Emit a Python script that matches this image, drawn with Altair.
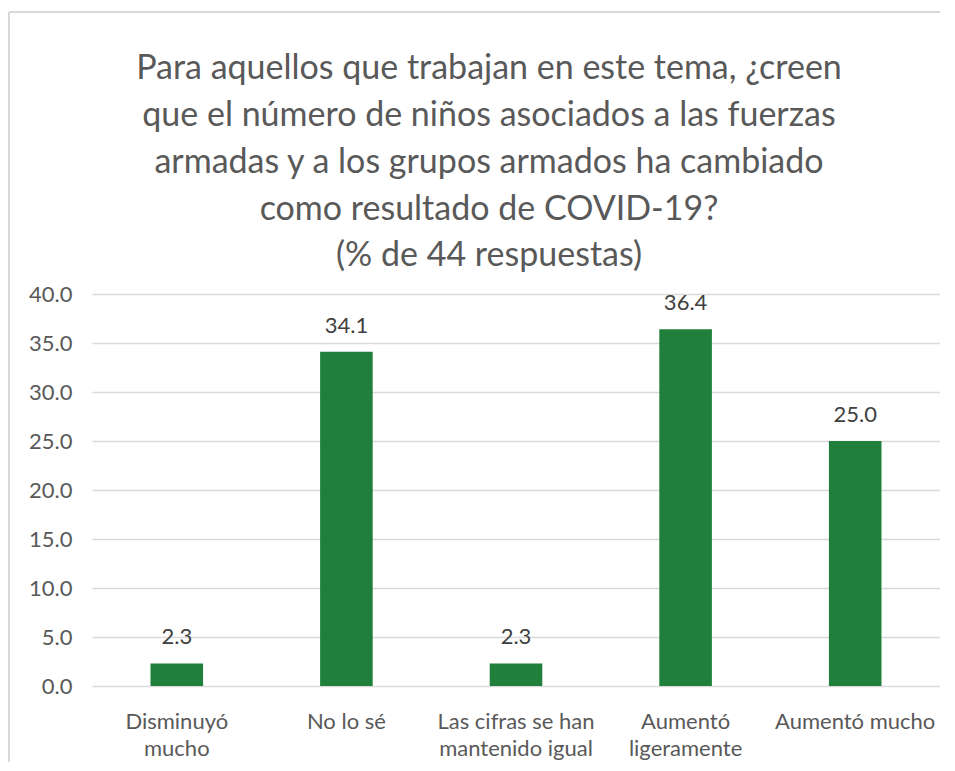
import altair as alt
import pandas as pd

categories = ["Disminuyó\nmucho", "No lo sé", "Las cifras se han\nmantenido igual",
              "Aumentó\nligeramente", "Aumentó mucho"]
values = [2.3, 34.1, 2.3, 36.4, 25.0]
y_ticks = [0, 5, 10, 15, 20, 25, 30, 35, 40]
title_lines = ["Para aquellos que trabajan en este tema, ¿creen",
               "que el número de niños asociados a las fuerzas",
               "armadas y a los grupos armados ha cambiado",
               "como resultado de COVID-19?",
               "(% de 44 respuestas)"]

df = pd.DataFrame({"cat": categories, "val": values})
FONT = "Lato"

x = alt.X("cat:N", sort=categories, title=None,
          scale=alt.Scale(paddingInner=0.69, paddingOuter=0.345),
          axis=alt.Axis(labelExpr="split(datum.label, '\\n')", labelAngle=0,
                        labelFontSize=22, labelColor="#595959", labelFont=FONT,
                        labelLineHeight=27, labelPadding=25, ticks=False,
                        domain=False, grid=False, labelBaseline="top"))
y = alt.Y("val:Q", title=None,
          scale=alt.Scale(domain=[0, 40], nice=False),
          axis=alt.Axis(values=y_ticks, format=".1f", labelFontSize=22,
                        labelColor="#595959", labelFont=FONT, ticks=False,
                        domain=False, gridColor="#d9d9d9", gridWidth=1.5,
                        labelPadding=20))

base = alt.Chart(df)
bars = base.mark_bar(color="#1f7f3b").encode(x=x, y=y)
labels = base.mark_text(baseline="bottom", dy=-14, fontSize=22, font=FONT,
                        color="#404040").encode(
    x=alt.X("cat:N", sort=categories), y="val:Q",
    text=alt.Text("val:Q", format=".1f"))

border_v = alt.Chart(df).mark_rule(color="#d9d9d9", strokeWidth=1.5, clip=False).encode(
    x=alt.value(-83), y=alt.value(-282), y2=alt.value(480))
border_h = alt.Chart(df).mark_rule(color="#d9d9d9", strokeWidth=1.5, clip=False).encode(
    x=alt.value(-83), x2=alt.value(900), y=alt.value(-282))

chart = alt.layer(border_v, border_h, bars, labels).properties(
    width=848, height=392,
    autosize=alt.AutoSizeParams(type="none"),
    padding={"left": 84, "top": 286, "right": 0, "bottom": 76},
    title=alt.Title(title_lines, fontSize=34, font=FONT, color="#595959",
                    fontWeight="normal", lineHeight=46.7, anchor="middle",
                    dx=-27, offset=-262),
).configure_view(stroke=None)

chart.save("out.html", embed_options={"renderer": "svg", "actions": False})
